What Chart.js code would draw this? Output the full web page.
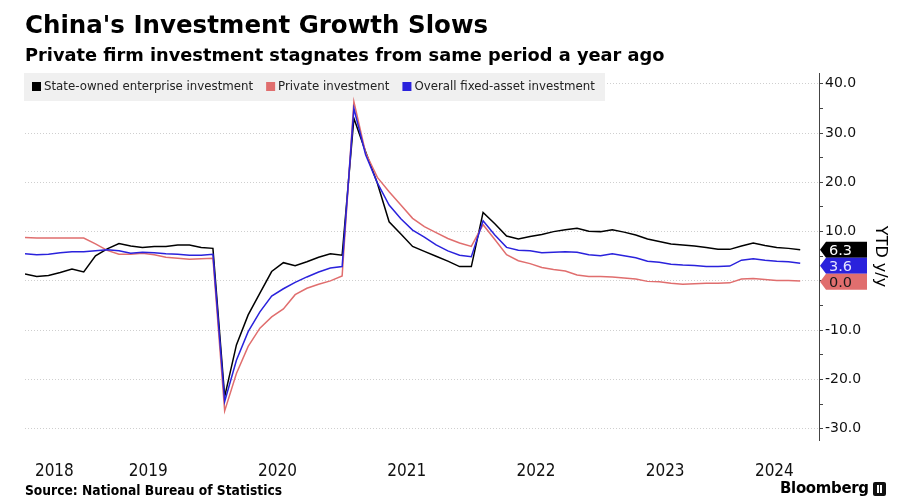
<!DOCTYPE html>
<html>
<head>
<meta charset="utf-8">
<script src="https://cdn.jsdelivr.net/npm/chart.js@4.4.1/dist/chart.umd.min.js"></script>
<style>
  html, body { margin: 0; padding: 0; background: #fff; }
  body { width: 898px; height: 503px; position: relative; overflow: hidden; }
  #wrap { position: absolute; left: 0; top: 0; width: 898px; height: 503px; }
  .txt { position: absolute; white-space: nowrap; color: #000; }
  #title { left: 25px; top: 10px; font: bold 24.5px "DejaVu Sans", sans-serif; }
  #subtitle { left: 25px; top: 44px; font: bold 17.8px "DejaVu Sans", sans-serif; }
  #source { left: 25px; top: 482px; font: bold 13.7px "DejaVu Sans Condensed", "DejaVu Sans", sans-serif; }
  #logo { left: 780px; top: 478px; font: bold 16.6px "DejaVu Sans Condensed", "DejaVu Sans", sans-serif; letter-spacing: -0.3px; }
  #mark { position: absolute; left: 873px; top: 482px; width: 13px; height: 14px; background: #111; border-radius: 2px; }
  #mark:after { content: ""; position: absolute; left: 4px; top: 3px; width: 5px; height: 8px; border-left: 2px solid #fff; border-right: 2px solid #fff; box-sizing: border-box; }
</style>
</head>
<body>
<div id="wrap"><canvas id="chart" width="898" height="503"></canvas></div>
<div class="txt" id="title">China's Investment Growth Slows</div>
<div class="txt" id="subtitle">Private firm investment stagnates from same period a year ago</div>
<div class="txt" id="source">Source: National Bureau of Statistics</div>
<div class="txt" id="logo">Bloomberg</div>
<div id="mark"></div>
<script>
// YTD periods (China reports Jan-Feb combined, so no January)
const periods = [
  '2018-07','2018-08','2018-09','2018-10','2018-11','2018-12',
  '2019-02','2019-03','2019-04','2019-05','2019-06','2019-07','2019-08','2019-09','2019-10','2019-11','2019-12',
  '2020-02','2020-03','2020-04','2020-05','2020-06','2020-07','2020-08','2020-09','2020-10','2020-11','2020-12',
  '2021-02','2021-03','2021-04','2021-05','2021-06','2021-07','2021-08','2021-09','2021-10','2021-11','2021-12',
  '2022-02','2022-03','2022-04','2022-05','2022-06','2022-07','2022-08','2022-09','2022-10','2022-11','2022-12',
  '2023-02','2023-03','2023-04','2023-05','2023-06','2023-07','2023-08','2023-09','2023-10','2023-11','2023-12',
  '2024-02','2024-03','2024-04','2024-05','2024-06','2024-07'
];

const soe = [
  1.4, 0.9, 1.1, 1.7, 2.4, 1.8,
  5.1, 6.5, 7.6, 7.1, 6.8, 7.0, 7.0, 7.3, 7.3, 6.8, 6.6,
  -23.5, -13.0, -6.9, -2.5, 1.9, 3.7, 3.1, 3.9, 4.8, 5.5, 5.2,
  33.0, 26.2, 19.8, 12.0, 9.5, 7.0, 6.0, 5.0, 4.0, 2.9, 2.9,
  13.9, 11.6, 9.1, 8.5, 9.0, 9.4, 10.0, 10.4, 10.7, 10.1, 10.0,
  10.4, 9.9, 9.3, 8.5, 8.0, 7.5, 7.3, 7.1, 6.8, 6.4, 6.4,
  7.1, 7.7, 7.2, 6.8, 6.6, 6.3
];

const priv = [
  8.8, 8.7, 8.7, 8.7, 8.7, 8.7,
  7.5, 6.2, 5.4, 5.4, 5.6, 5.3, 4.8, 4.6, 4.4, 4.5, 4.6,
  -26.4, -18.8, -13.3, -9.6, -7.3, -5.7, -2.8, -1.5, -0.7, 0.0, 1.0,
  36.4, 26.0, 21.0, 18.1, 15.4, 12.7, 11.0, 9.8, 8.6, 7.7, 7.0,
  11.4, 8.4, 5.3, 4.1, 3.5, 2.7, 2.3, 2.0, 1.2, 0.9, 0.9,
  0.8, 0.6, 0.4, -0.1, -0.2, -0.5, -0.7, -0.6, -0.5, -0.5, -0.4,
  0.4, 0.5, 0.3, 0.1, 0.1, 0.0
];

const overall = [
  5.5, 5.3, 5.4, 5.7, 5.9, 5.9,
  6.1, 6.3, 6.1, 5.6, 5.8, 5.7, 5.5, 5.4, 5.2, 5.2, 5.4,
  -24.5, -16.1, -10.3, -6.3, -3.1, -1.6, -0.3, 0.8, 1.8, 2.6, 2.9,
  35.0, 25.6, 19.9, 15.4, 12.6, 10.3, 8.9, 7.3, 6.1, 5.2, 4.9,
  12.2, 9.3, 6.8, 6.2, 6.1, 5.7, 5.8, 5.9, 5.8, 5.3, 5.1,
  5.5, 5.1, 4.7, 4.0, 3.8, 3.4, 3.2, 3.1, 2.9, 2.9, 3.0,
  4.2, 4.5, 4.2, 4.0, 3.9, 3.6
];

const seriesNames = ['State-owned enterprise investment', 'Private investment', 'Overall fixed-asset investment'];
const seriesColors = ['#000000', '#e06e6e', '#2a22dc'];
const yTickValues = [-30, -25, -20, -15, -10, -5, 0, 5, 10, 15, 20, 25, 30, 35, 40];

const X_MIN = 0, X_MAX = 67.6;
const Y_MIN = -32.3, Y_MAX = 42.2;

// year labels sit in the middle of each year's visible span
const years = [...new Set(periods.map(p => p.slice(0, 4)))];
const yearTicks = years.map((yr, k) => {
  const idx = periods.map((p, i) => p.startsWith(yr) ? i : -1).filter(i => i >= 0);
  const start = Math.max(X_MIN, idx[0] - 1);
  const end = k === years.length - 1 ? X_MAX : idx[idx.length - 1];
  return { year: yr, pos: (start + end) / 2 };
});

const toXY = arr => arr.map((v, i) => ({ x: i, y: v }));

const legendBox = {
  id: 'legendBox',
  beforeDatasetsDraw(chart) {
    const ctx = chart.ctx;
    ctx.save();
    ctx.fillStyle = '#f0f0f0';
    ctx.fillRect(24, 73, 581, 28);
    ctx.font = '13.1px "DejaVu Sans Condensed", "DejaVu Sans", sans-serif';
    ctx.textBaseline = 'middle';
    let x = 32;
    seriesNames.forEach((name, i) => {
      ctx.fillStyle = seriesColors[i];
      ctx.fillRect(x, 82, 9, 9);
      x += 12;
      ctx.fillStyle = '#222';
      ctx.fillText(name, x, 87);
      x += ctx.measureText(name).width + 13;
    });
    ctx.restore();
  }
};

const endLabels = {
  id: 'endLabels',
  afterDatasetsDraw(chart) {
    const ctx = chart.ctx;
    const ys = chart.scales.y;
    const textColors = ['#ffffff', '#1a1a1a', '#e4e4ff'];
    const h = 16;
    const items = chart.data.datasets.map((ds, i) => {
      const last = ds.data[ds.data.length - 1].y;
      return { i, v: last, cy: ys.getPixelForValue(last) };
    }).sort((a, b) => a.cy - b.cy);
    let prevBottom = -Infinity;
    items.forEach(it => {
      let top = it.cy - h / 2;
      if (top < prevBottom) top = prevBottom;
      prevBottom = top + h;
      it.top = top;
    });
    ctx.save();
    ctx.font = '14.5px "DejaVu Sans", sans-serif';
    ctx.textBaseline = 'middle';
    items.forEach(it => {
      const x0 = ys.left + 1, top = it.top, mid = top + h / 2;
      ctx.fillStyle = seriesColors[it.i];
      ctx.beginPath();
      ctx.moveTo(x0, mid);
      ctx.lineTo(x0 + 6, top);
      ctx.lineTo(x0 + 47, top);
      ctx.lineTo(x0 + 47, top + h);
      ctx.lineTo(x0 + 6, top + h);
      ctx.closePath();
      ctx.fill();
      ctx.fillStyle = textColors[it.i];
      ctx.fillText(it.v.toFixed(1), x0 + 9, mid + 1);
    });
    ctx.restore();
  }
};

const yTitle = {
  id: 'yTitle',
  afterDraw(chart) {
    const ctx = chart.ctx;
    const ys = chart.scales.y;
    ctx.save();
    ctx.translate(880, (ys.top + ys.bottom) / 2);
    ctx.rotate(Math.PI / 2);
    ctx.font = '16px "DejaVu Sans", sans-serif';
    ctx.fillStyle = '#000';
    ctx.textAlign = 'center';
    ctx.textBaseline = 'middle';
    ctx.fillText('YTD y/y', 0, 0);
    ctx.restore();
  }
};

new Chart(document.getElementById('chart'), {
  type: 'line',
  data: {
    datasets: [
      { label: seriesNames[0], data: toXY(soe), borderColor: seriesColors[0], order: 2 },
      { label: seriesNames[1], data: toXY(priv), borderColor: seriesColors[1], order: 1 },
      { label: seriesNames[2], data: toXY(overall), borderColor: seriesColors[2], order: 0 }
    ]
  },
  options: {
    responsive: false,
    animation: false,
    layout: { padding: { left: 25, top: 73, right: 0, bottom: 0 } },
    elements: {
      line: { borderWidth: 1.5, tension: 0 },
      point: { radius: 0 }
    },
    plugins: {
      legend: { display: false },
      tooltip: { enabled: false }
    },
    scales: {
      x: {
        type: 'linear',
        min: X_MIN,
        max: X_MAX,
        afterBuildTicks: scale => { scale.ticks = yearTicks.map(t => ({ value: t.pos })); },
        afterFit: scale => { scale.height = 63; },
        grid: { display: false, drawTicks: false },
        border: { display: false },
        ticks: {
          autoSkip: false,
          maxRotation: 0,
          padding: 21,
          color: '#111',
          font: { family: '"Liberation Sans Narrow", "DejaVu Sans Condensed", sans-serif', size: 17 },
          callback: (v, i) => yearTicks[i] ? yearTicks[i].year : ''
        }
      },
      y: {
        type: 'linear',
        position: 'right',
        min: Y_MIN,
        max: Y_MAX,
        afterBuildTicks: scale => { scale.ticks = yTickValues.map(v => ({ value: v })); },
        afterFit: scale => { scale.width = 79; },
        grid: {
          color: c => (c.tick && c.tick.value % 10 === 0) ? '#cfcfcf' : 'rgba(0,0,0,0)',
          tickColor: '#444',
          tickLength: 4,
          lineWidth: 1
        },
        border: { display: true, color: '#444', width: 1, dash: [1, 2] },
        ticks: {
          padding: 2,
          color: '#111',
          font: { family: '"DejaVu Sans", sans-serif', size: 14 },
          callback: v => v % 10 === 0 ? v.toFixed(1) : ''
        }
      }
    }
  },
  plugins: [legendBox, endLabels, yTitle]
});
</script>
</body>
</html>
